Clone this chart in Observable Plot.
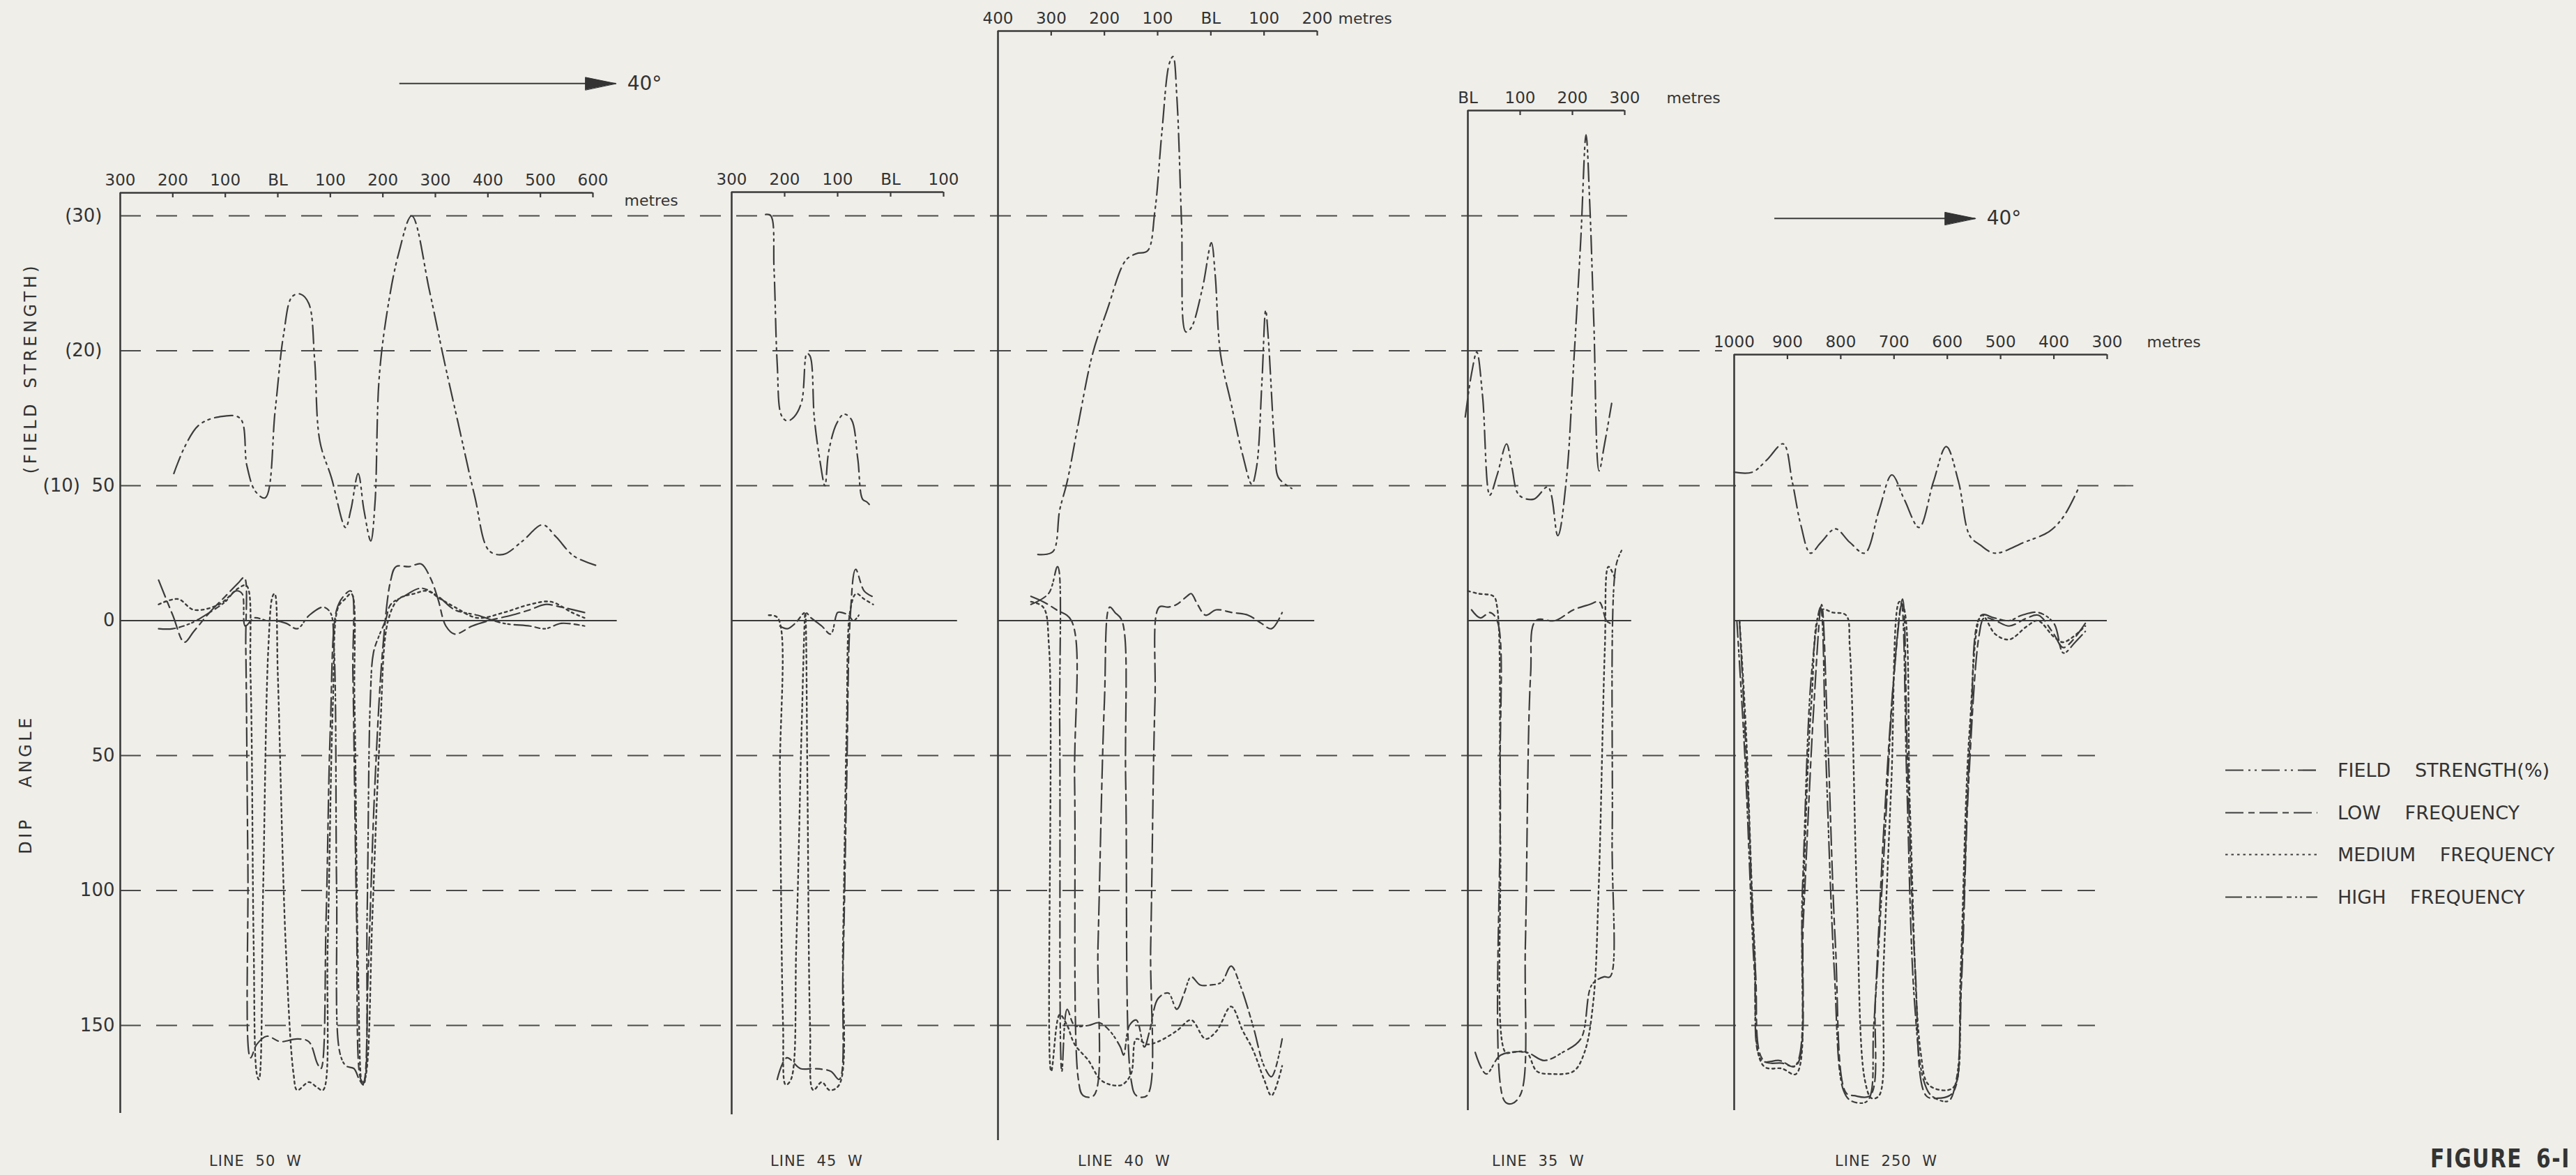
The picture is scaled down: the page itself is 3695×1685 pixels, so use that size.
<!DOCTYPE html>
<html>
<head>
<meta charset="utf-8">
<script src="https://cdn.jsdelivr.net/npm/d3@7"></script>
<script src="https://cdn.jsdelivr.net/npm/@observablehq/plot@0.6"></script>
<style>
  html, body { margin: 0; padding: 0; background: #efeee9; }
  #fig { position: relative; width: 3695px; height: 1685px; overflow: hidden; background: #efeee9;
         font-family: "DejaVu Sans", sans-serif; color: #333; }
  #fig svg.layer { position: absolute; left: 0; top: 0; }
  .cap { position: absolute; white-space: nowrap; line-height: 1; }
  .rot { transform: translate(-50%, -50%) rotate(-90deg); }
  .legrow { position: absolute; display: flex; align-items: center; white-space: nowrap; font-size: 27px; line-height: 27px; word-spacing: 26px; }
  .legrow svg { display: block; margin-right: 29px; }
</style>
</head>
<body>
<div id="fig"></div>
<script>
// ---------------- DATA ----------------
// shared vertical scale: dip angle (degrees, positive downward); field strength % plotted at 5 dip units per %
const yTickValues = [-150, -100, -50, 0, 50, 100, 150];
const yTickLabels = ["(30)", "(20)", "(10)\u00a0\u00a050", "0", "50", "100", "150"];

// LINE 50 W  [metres from BL (W negative), value]
const line50W_ticks = [-300, -200, -100, 0, 100, 200, 300, 400, 500, 600];
const line50W_labels = ["300", "200", "100", "BL", "100", "200", "300", "400", "500", "600"];
const line50W_field = [[-198,10.9],[-177,12.9],[-150,14.5],[-112,15.1],[-72,15.0],[-59,11.5],[-43,9.6],[-24,9.1],[-5,15.6],[11,21.2],[27,24.0],[43,24.2],[59,23.5],[70,19.4],[80,13.3],[102,10.6],[129,6.9],[139,8.2],[153,10.9],[164,8.2],[177,5.9],[185,8.7],[193,18.0],[209,23.1],[230,27.2],[255,30.0],[289,24.4],[316,19.4],[343,14.7],[375,9.2],[402,5.2],[429,4.9],[466,5.9],[504,7.1],[530,6.2],[563,4.8],[605,4.1]];
const line50W_low = [[-227,-15],[-200,-2],[-178,8],[-160,4],[-130,-3],[-100,-9],[-75,-14],[-64,-16],[-61,10],[-57,90],[-52,162],[-40,157],[-21,154],[5,156],[37,155],[59,156],[75,164],[82,166],[92,110],[100,40],[112,-4],[125,-9],[139,-11],[143,20],[150,110],[158,170],[163,171],[172,130],[185,60],[200,10],[215,-15],[225,-20],[250,-20],[273,-21],[290,-16],[305,-8],[320,2],[337,5],[370,2],[402,0],[445,-2],[480,-4],[509,-6],[540,-5],[584,-3]];
const line50W_medium = [[-227,-6],[-190,-8],[-160,-4],[-112,-6],[-75,-12],[-60,-13],[-52,20],[-46,120],[-40,168],[-36,170],[-28,100],[-18,10],[-10,-9],[-6,-10],[0,20],[15,120],[30,168],[37,174],[59,171],[75,173],[86,174],[95,120],[105,30],[115,-5],[128,-8],[140,-10],[146,30],[153,130],[161,172],[168,168],[180,110],[195,40],[210,0],[230,-8],[260,-10],[284,-11],[310,-8],[337,-5],[380,-1],[430,-3],[480,-6],[520,-7],[560,-3],[584,-1]];
const line50W_high = [[-227,3],[-200,3],[-166,1],[-130,-3],[-100,-7],[-80,-11],[-68,-10],[-62,2],[-45,-1],[-21,0],[-5,0],[16,1],[37,3],[60,-2],[86,-5],[100,-3],[107,10],[112,100],[118,160],[130,165],[145,166],[155,170],[163,172],[170,110],[176,30],[182,12],[192,6],[205,0],[215,-6],[240,-9],[273,-12],[305,-9],[337,-4],[380,-2],[430,1],[480,2],[509,3],[540,1],[584,2]];

// LINE 45 W
const line45W_ticks = [-300, -200, -100, 0, 100];
const line45W_labels = ["300", "200", "100", "BL", "100"];
const line45W_field = [[-236,30.1],[-226,30.0],[-220,26],[-214,19],[-206,15.2],[-195,14.8],[-182,15.1],[-168,16.2],[-158,19.8],[-152,19.6],[-144,15],[-134,12],[-124,10],[-117,12.5],[-102,14.6],[-88,15.3],[-74,14.9],[-62,12],[-53,9],[-45,8.8],[-38,8.5]];
const line45W_low = [[-214,170],[-196,162],[-170,166],[-145,166],[-113,167],[-97,170],[-90,130],[-83,60],[-76,-2],[-66,-19],[-50,-11],[-35,-9]];
const line45W_medium = [[-230,-2],[-213,-1],[-209,60],[-203,150],[-198,172],[-188,170],[-178,120],[-168,40],[-161,-3],[-157,60],[-152,150],[-146,174],[-130,171],[-115,174],[-97,172],[-90,120],[-83,40],[-76,-4],[-65,-10],[-50,-8],[-33,-6]];
const line45W_high = [[-209,2],[-195,3],[-180,1],[-161,-3],[-150,-1],[-130,2],[-113,5],[-100,-3],[-92,-3],[-80,-2],[-70,0],[-60,-2]];

// LINE 40 W
const line40W_ticks = [-400, -300, -200, -100, 0, 100, 200];
const line40W_labels = ["400", "300", "200", "100", "BL", "100", "200"];
const line40W_field = [[-325,4.9],[-297,5.1],[-284,8.2],[-270,10.3],[-249,14.6],[-222,19.8],[-195,23],[-160,26.7],[-140,27.2],[-119,27.4],[-105,30.4],[-92,36.2],[-78,41.3],[-71,41.8],[-64,38.9],[-55,29.4],[-47,21.4],[-37,21.7],[-16,24.6],[1,28],[8,25.7],[18,19.8],[38,16.1],[59,12.4],[77,10.1],[86,11.4],[96,17.7],[103,23],[108,20.9],[121,12.4],[127,10.6],[152,9.8]];
const line40W_low = [[-338,-9],[-315,-7],[-290,-4],[-262,0],[-256,60],[-249,170],[-240,176],[-220,176],[-212,120],[-200,30],[-190,-5],[-180,-3],[-167,0],[-160,60],[-150,170],[-140,176],[-120,176],[-113,120],[-105,30],[-97,-5],[-80,-5],[-64,-6],[-45,-9],[-37,-10],[-25,-6],[-10,-2],[10,-4],[40,-3],[70,-2],[95,1],[114,3],[134,-3]];
const line40W_medium = [[-338,-7],[-315,-5],[-304,10],[-300,167],[-284,146],[-270,150],[-256,157],[-230,163],[-208,170],[-188,172],[-167,172],[-150,168],[-140,155],[-120,157],[-99,156],[-64,152],[-37,148],[-10,155],[11,152],[38,143],[60,152],[79,159],[100,170],[114,176],[134,165]];
const line40W_high = [[-338,-6],[-305,-10],[-288,-20],[-284,40],[-280,167],[-270,144],[-256,150],[-230,150],[-210,149],[-190,152],[-170,158],[-164,161],[-153,150],[-140,148],[-125,158],[-115,152],[-99,140],[-80,138],[-64,144],[-50,138],[-37,132],[-20,135],[0,135],[20,134],[38,128],[55,135],[79,150],[100,165],[114,169],[134,155]];

// LINE 35 W
const line35W_ticks = [0, 100, 200, 300];
const line35W_labels = ["BL", "100", "200", "300"];
const line35W_field = [[-5,15.1],[7,18.3],[17,19.9],[28,16.7],[42,9.3],[56,10.8],[74,13.1],[84,11.4],[98,9.3],[126,9.0],[153,9.9],[172,6.3],[188,10.3],[202,18.8],[216,28.3],[226,36],[233,31],[241,22],[251,11.1],[261,13],[275,16.1]];
const line35W_low = [[7,-4],[24,-1],[42,-3],[56,0],[62,60],[70,178],[84,179],[102,175],[110,120],[120,20],[130,0],[167,0],[202,-4],[233,-6],[251,-7],[265,0],[272,1]];
const line35W_medium = [[0,-11],[20,-10],[49,-9],[56,-5],[62,80],[72,160],[84,160],[112,160],[132,167],[160,168],[202,167],[223,160],[240,141],[250,100],[262,10],[269,-20],[283,-15]];
const line35W_high = [[14,160],[35,168],[63,161],[112,160],[146,163],[181,160],[216,155],[237,135],[260,132],[272,132],[276,80],[283,-20],[294,-26]];

// LINE 250 W (chainage decreasing to the right)
const line250W_ticks = [1000, 900, 800, 700, 600, 500, 400, 300];
const line250W_labels = ["1000", "900", "800", "700", "600", "500", "400", "300"];
const line250W_field = [[1000,11],[966,11],[939,11.9],[908,13.1],[891,10.3],[875,7.1],[857,5],[837,5.8],[810,6.8],[783,5.8],[755,5],[728,8.2],[704,10.8],[681,9],[653,6.9],[626,10.3],[602,12.9],[579,10.3],[558,6.3],[538,5.6],[511,5],[456,5.8],[409,6.6],[382,7.7],[354,9.8]];
const line250W_low = [[990,0],[975,60],[960,130],[945,163],[910,164],[884,165],[870,110],[850,30],[836,-6],[825,40],[810,120],[790,175],[775,176],[745,176],[735,140],[720,80],[700,20],[684,-8],[675,50],[660,130],[640,176],[620,177],[590,175],[575,140],[560,60],[540,5],[531,-1],[510,0],[484,2],[450,-1],[429,-2],[400,5],[382,10],[341,1]];
const line250W_medium = [[990,0],[978,40],[962,120],[945,165],[910,166],[884,168],[872,110],[855,30],[836,-4],[815,-3],[790,-2],[783,10],[770,100],[755,170],[742,177],[728,176],[720,130],[705,60],[690,-7],[682,-5],[670,70],[650,160],[635,172],[600,174],[585,172],[575,130],[558,40],[535,-2],[510,5],[484,7],[450,2],[430,0],[400,6],[382,8],[341,2]];
const line250W_high = [[995,0],[980,50],[962,130],[948,163],[915,163],[886,165],[872,100],[855,20],[838,-5],[828,50],[812,130],[795,174],[780,178],[750,178],[738,150],[720,90],[700,20],[686,-6],[676,60],[662,140],[645,170],[630,176],[598,178],[583,170],[572,120],[556,40],[536,-2],[512,-1],[484,0],[460,-2],[429,-3],[400,1],[382,12],[360,8],[341,4]];

// direction arrows (metres along the line, y in chart units)
const arrow50W = [{from: 232, to: 644, v: -199, label: "40°"}];
const arrow250W = [{from: 924, to: 547, v: -149, label: "40°"}];

const legendLabels = ["FIELD STRENGTH(%)", "LOW FREQUENCY", "MEDIUM FREQUENCY", "HIGH FREQUENCY"];

// ---------------- STYLE / LAYOUT ----------------
const W = 3695, H = 1685;
const Y_DOMAIN = [-150, 150], Y_RANGE = [309, 1470];
const FS_TO_DIP = 5;
const INK = "#333", AXIS = "#3a3a3a", CURVE = "#3c3c3c";
const DASH = { field: "26,7,3,6,3,7", low: "26,7,9,7", medium: "3.5,5", high: "24,6,7,5,3,4,3,6" };
const yPx = d3.scaleLinear(Y_DOMAIN, Y_RANGE);
const FONT = "DejaVu Sans";

const panels = [
  {caption: "LINE 50 W", captionX: 300, domain: [-300, 600], range: [172, 850], axisPx: 276, bottomPx: 1596, zeroEnd: 646,
   ticks: line50W_ticks, labels: line50W_labels, metres: {dx: 45, dy: 11},
   field: line50W_field, low: line50W_low, medium: line50W_medium, high: line50W_high, arrow: arrow50W},
  {caption: "LINE 45 W", captionX: 1105, domain: [-300, 100], range: [1049, 1353], axisPx: 275, bottomPx: 1598, zeroEnd: 126,
   ticks: line45W_ticks, labels: line45W_labels, metres: null,
   field: line45W_field, low: line45W_low, medium: line45W_medium, high: line45W_high, arrow: null},
  {caption: "LINE 40 W", captionX: 1546, domain: [-400, 200], range: [1431, 1889], axisPx: 44, bottomPx: 1635, zeroEnd: 195,
   ticks: line40W_ticks, labels: line40W_labels, metres: {dx: 30, dy: -18},
   field: line40W_field, low: line40W_low, medium: line40W_medium, high: line40W_high, arrow: null},
  {caption: "LINE 35 W", captionX: 2140, domain: [0, 300], range: [2105, 2330], axisPx: 158, bottomPx: 1592, zeroEnd: 313,
   ticks: line35W_ticks, labels: line35W_labels, metres: {dx: 60, dy: -18},
   field: line35W_field, low: line35W_low, medium: line35W_medium, high: line35W_high, arrow: null},
  {caption: "LINE 250 W", captionX: 2632, domain: [1000, 300], range: [2487, 3022], axisPx: 508, bottomPx: 1592, zeroEnd: 300,
   ticks: line250W_ticks, labels: line250W_labels, metres: {dx: 57, dy: -18},
   field: line250W_field, low: line250W_low, medium: line250W_medium, high: line250W_high, arrow: arrow250W}
];

const grid = [
  {v: -150, x2: 2340}, {v: -100, x2: 2470}, {v: -50, x2: 3060},
  {v: 50, x2: 3005}, {v: 100, x2: 3005}, {v: 150, x2: 3005}
];

const fig = document.getElementById("fig");
const baseStyle = {background: "transparent", overflow: "visible", fontFamily: FONT, color: INK};

// ---------------- background: grid + y axis ----------------
const yLab = d => yTickLabels[yTickValues.indexOf(d)];
const bg = Plot.plot({
  width: W, height: H, marginLeft: 172, marginTop: 0, marginRight: 0, marginBottom: 0,
  x: {domain: [0, W], range: [0, W], axis: null, label: null},
  y: {domain: Y_DOMAIN, range: Y_RANGE, axis: null, label: null},
  style: baseStyle,
  marks: [
    Plot.ruleY(grid, {y: "v", x1: 172, x2: "x2", stroke: "#4a4a4a", strokeWidth: 1.8, strokeDasharray: "30,22"}),
    Plot.axisY([-150, -100], {anchor: "left", label: null, tickSize: 0, tickPadding: 26, tickFormat: yLab, fontSize: 26, fill: INK}),
    Plot.axisY([-50, 0, 50, 100, 150], {anchor: "left", label: null, tickSize: 0, tickPadding: 8, tickFormat: yLab, fontSize: 26, fill: INK})
  ]
});
bg.classList.add("layer");
fig.appendChild(bg);

// ---------------- panels ----------------
const headShape = {
  draw(context, l) {
    context.moveTo(0, -l);
    context.lineTo(-9, 0);
    context.lineTo(9, 0);
    context.closePath();
  }
};
const pxPerUnit = (Y_RANGE[1] - Y_RANGE[0]) / (Y_DOMAIN[1] - Y_DOMAIN[0]);

for (const p of panels) {
  const vTop = yPx.invert(p.axisPx);
  const vBottom = yPx.invert(p.bottomPx);
  const [xL, xR] = p.domain;
  const tickLen = 7 / pxPerUnit;
  const curve = "catmull-rom";
  const marks = [
    Plot.ruleY([0], {x1: xL, x2: p.zeroEnd, stroke: AXIS, strokeWidth: 2}),
    Plot.ruleX([xL], {y1: vTop, y2: vBottom, stroke: AXIS, strokeWidth: 2.6}),
    Plot.ruleY([vTop], {x1: xL, x2: xR, stroke: AXIS, strokeWidth: 2.4}),
    Plot.ruleX(p.ticks.slice(1), {y1: vTop, y2: vTop + tickLen, stroke: AXIS, strokeWidth: 2.2}),
    Plot.text(p.ticks, {x: d => d, y: vTop, dy: -18, text: (d, i) => p.labels[i], fontSize: 23, fill: INK}),
    Plot.line(p.field, {x: d => d[0], y: d => -FS_TO_DIP * d[1], stroke: CURVE, strokeWidth: 2.2, strokeDasharray: DASH.field, curve}),
    Plot.line(p.low, {x: d => d[0], y: d => d[1], stroke: CURVE, strokeWidth: 2.2, strokeDasharray: DASH.low, curve}),
    Plot.line(p.medium, {x: d => d[0], y: d => d[1], stroke: CURVE, strokeWidth: 2.4, strokeDasharray: DASH.medium, curve}),
    Plot.line(p.high, {x: d => d[0], y: d => d[1], stroke: CURVE, strokeWidth: 2.2, strokeDasharray: DASH.high, curve})
  ];
  if (p.metres) {
    marks.push(Plot.text(["metres"], {x: xR, y: vTop, dx: p.metres.dx, dy: p.metres.dy, text: d => d, textAnchor: "start", fontSize: 22, fill: INK}));
  }
  if (p.arrow) {
    marks.push(
      Plot.ruleY(p.arrow, {y: "v", x1: "from", x2: "to", stroke: AXIS, strokeWidth: 2}),
      Plot.vector(p.arrow, {x: "to", y: "v", length: 44, rotate: 90, anchor: "end", shape: headShape, fill: INK, stroke: INK, strokeWidth: 1}),
      Plot.text(p.arrow, {x: "to", y: "v", text: "label", dx: 16, textAnchor: "start", fontSize: 28, fill: INK})
    );
  }
  const svg = Plot.plot({
    width: W, height: H, margin: 0,
    x: {domain: p.domain, range: p.range, axis: null, label: null},
    y: {domain: Y_DOMAIN, range: Y_RANGE, axis: null, label: null},
    style: baseStyle,
    marks
  });
  svg.classList.add("layer");
  fig.appendChild(svg);

  const c = document.createElement("div");
  c.className = "cap";
  c.textContent = p.caption;
  Object.assign(c.style, {left: p.captionX + "px", top: "1655px", fontSize: "21px", letterSpacing: "1px", wordSpacing: "8px"});
  fig.appendChild(c);
}

// ---------------- rotated axis titles ----------------
function rotLabel(text, cx, cy, ws) {
  const d = document.createElement("div");
  d.className = "cap rot";
  d.textContent = text;
  Object.assign(d.style, {left: cx + "px", top: cy + "px", fontSize: "24px", letterSpacing: "4.5px", wordSpacing: ws + "px"});
  fig.appendChild(d);
}
rotLabel("(FIELD STRENGTH)", 44, 528, 6);
rotLabel("DIP ANGLE", 37, 1125, 30);

// ---------------- legend ----------------
const legendDash = [DASH.field, DASH.low, DASH.medium, DASH.high];
legendLabels.forEach((lab, i) => {
  const row = document.createElement("div");
  row.className = "legrow";
  row.style.left = "3192px";
  row.style.top = (1091 + i * 60.7) + "px";
  const s = d3.create("svg").attr("width", 132).attr("height", 27);
  s.append("line").attr("x1", 0).attr("x2", 132).attr("y1", 13.5).attr("y2", 13.5)
    .attr("stroke", CURVE).attr("stroke-width", 2.2).attr("stroke-dasharray", legendDash[i]);
  row.appendChild(s.node());
  const t = document.createElement("span");
  t.textContent = lab;
  row.appendChild(t);
  fig.appendChild(row);
});

// ---------------- figure number ----------------
const figLab = document.createElement("div");
figLab.className = "cap";
figLab.textContent = "FIGURE 6-I";
Object.assign(figLab.style, {left: "3486px", top: "1643px", fontSize: "37px", fontWeight: "bold", letterSpacing: "2px", wordSpacing: "10px",
  transform: "scaleX(0.8)", transformOrigin: "left top"});
fig.appendChild(figLab);
</script>
</body>
</html>
